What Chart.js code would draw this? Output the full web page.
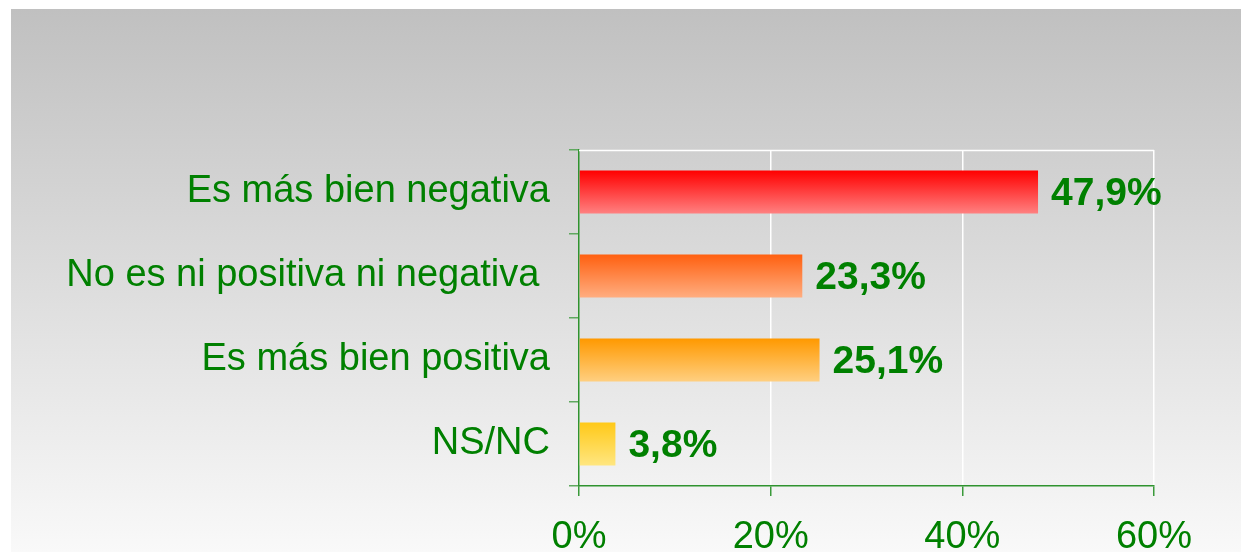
<!DOCTYPE html>
<html>
<head>
<meta charset="utf-8">
<script src="https://cdn.jsdelivr.net/npm/chart.js@4/dist/chart.umd.min.js"></script>
<style>
  html, body { margin: 0; padding: 0; background: #fff; }
  canvas { display: block; }
</style>
</head>
<body>
<canvas id="chart" width="1241" height="552"></canvas>
<script>
const categories = ["Es más bien negativa", "No es ni positiva ni negativa ", "Es más bien positiva", "NS/NC"];
const shares = [47.9, 23.3, 25.1, 3.8];
const axisTicks = [0, 20, 40, 60];

const barTopColors = ["#ff0000", "#ff6010", "#ff9900", "#ffc918"];
const barBottomColors = ["#ff8080", "#ffad80", "#ffcf80", "#ffe680"];

const GREEN = "#008000";
const FONT = "'Liberation Sans', Arial, sans-serif";

function formatShare(value) {
  return value.toFixed(1).replace(".", ",") + "%";
}

const panelBackground = {
  id: "panelBackground",
  beforeDraw(chart) {
    const { ctx, width, height } = chart;
    ctx.save();
    ctx.fillStyle = "#ffffff";
    ctx.fillRect(0, 0, width, height);
    const grad = ctx.createLinearGradient(0, 9, 0, height);
    grad.addColorStop(0, "#c0c0c0");
    grad.addColorStop(1, "#f9f9f9");
    ctx.fillStyle = grad;
    ctx.fillRect(11, 9, width - 11, height - 9);
    ctx.restore();
  },
};

const barGradients = {
  id: "barGradients",
  beforeDatasetsDraw(chart) {
    const { ctx } = chart;
    const meta = chart.getDatasetMeta(0);
    meta.data.forEach((bar, i) => {
      const top = bar.y - bar.height / 2;
      const bottom = bar.y + bar.height / 2;
      const grad = ctx.createLinearGradient(0, top, 0, bottom);
      grad.addColorStop(0, barTopColors[i]);
      grad.addColorStop(1, barBottomColors[i]);
      bar.options.backgroundColor = grad;
    });
  },
};

const plotFrame = {
  id: "plotFrame",
  beforeDatasetsDraw(chart) {
    const { ctx, chartArea } = chart;
    ctx.save();
    ctx.strokeStyle = "#ffffff";
    ctx.lineWidth = 1.5;
    ctx.beginPath();
    ctx.moveTo(chartArea.left, chartArea.top + 0.5);
    ctx.lineTo(chartArea.right, chartArea.top + 0.5);
    ctx.stroke();
    ctx.restore();
  },
};

const valueLabels = {
  id: "valueLabels",
  afterDatasetsDraw(chart) {
    const { ctx } = chart;
    const meta = chart.getDatasetMeta(0);
    ctx.save();
    ctx.fillStyle = GREEN;
    ctx.font = "bold 39px " + FONT;
    ctx.textAlign = "left";
    ctx.textBaseline = "middle";
    meta.data.forEach((bar, i) => {
      ctx.fillText(formatShare(shares[i]), bar.x + 13, bar.y + 2);
    });
    ctx.restore();
  },
};

const ctx = document.getElementById("chart").getContext("2d");
new Chart(ctx, {
  type: "bar",
  data: {
    labels: categories,
    datasets: [
      {
        data: shares,
        backgroundColor: barTopColors,
        borderWidth: 0,
        barPercentage: 0.51,
        categoryPercentage: 1,
      },
    ],
  },
  options: {
    indexAxis: "y",
    responsive: false,
    animation: false,
    layout: { padding: { top: 150, right: 87, left: 0, bottom: 0 } },
    plugins: {
      legend: { display: false },
      tooltip: { enabled: false },
    },
    scales: {
      x: {
        min: axisTicks[0],
        max: axisTicks[axisTicks.length - 1],
        afterFit: (scale) => { scale.height = 66; },
        afterBuildTicks: (scale) => { scale.ticks = axisTicks.map((v) => ({ value: v })); },
        ticks: {
          color: GREEN,
          font: { family: FONT, size: 38 },
          padding: 19,
          callback: (v) => v + "%",
        },
        grid: {
          color: (c) => (c.tick && c.tick.value === 0 ? "rgba(0,0,0,0)" : "#ffffff"),
          lineWidth: 1.5,
          tickColor: "#3a9a3a",
          tickLength: 10,
        },
        border: { color: "#2f932f", width: 1.5 },
      },
      y: {
        afterFit: (scale) => { scale.width = 579; },
        ticks: {
          color: GREEN,
          font: { family: FONT, size: 38 },
          padding: 19,
        },
        grid: {
          drawOnChartArea: false,
          tickColor: "#5fa85f",
          tickLength: 10,
          lineWidth: 1.5,
        },
        border: { color: "#2f932f", width: 1.5 },
      },
    },
  },
  plugins: [panelBackground, plotFrame, barGradients, valueLabels],
});
</script>
</body>
</html>
